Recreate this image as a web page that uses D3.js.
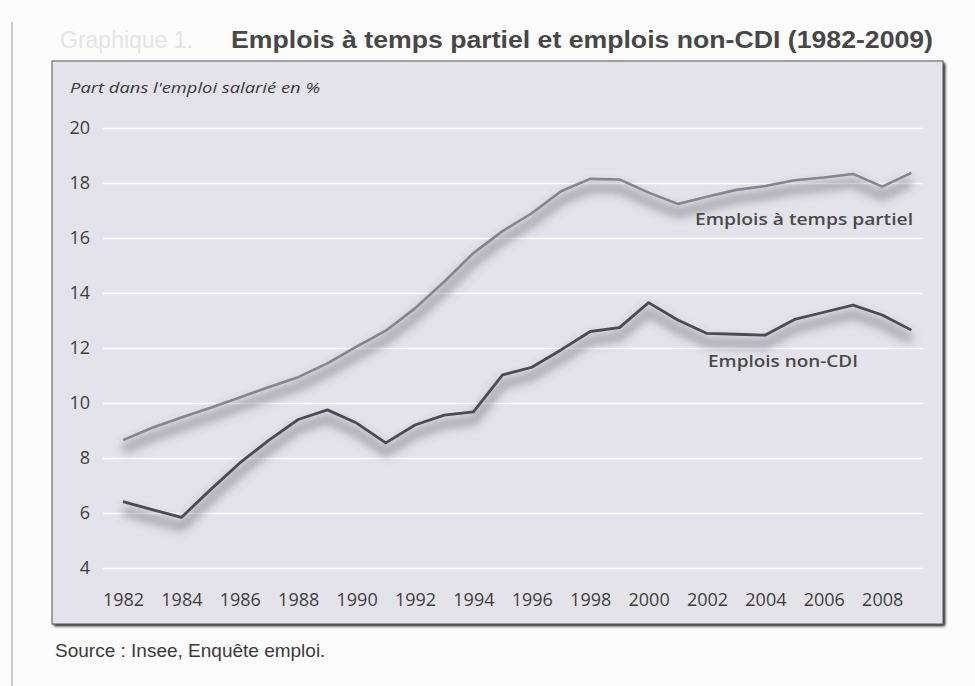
<!DOCTYPE html>
<html>
<head>
<meta charset="utf-8">
<script src="https://cdn.jsdelivr.net/npm/d3@7"></script>
<style>
  body { margin: 0; background: #fcfcfc; }
  svg { display: block; }
</style>
</head>
<body>
<div id="chart"></div>
<script>
// values (Insee, Enquête emploi)
const years = [1982, 1983, 1984, 1985, 1986, 1987, 1988, 1989, 1990, 1991, 1992, 1993, 1994, 1995,
               1996, 1997, 1998, 1999, 2000, 2001, 2002, 2003, 2004, 2005, 2006, 2007, 2008, 2009];
const partTime = [8.65, 9.1, 9.47, 9.83, 10.2, 10.58, 10.94, 11.44, 12.05, 12.63, 13.44, 14.41, 15.45, 16.25,
                  16.9, 17.7, 18.15, 18.13, 17.65, 17.24, 17.5, 17.75, 17.89, 18.1, 18.2, 18.33, 17.87, 18.37];
const nonCdi = [6.41, 6.12, 5.84, 6.85, 7.82, 8.65, 9.4, 9.75, 9.27, 8.55, 9.2, 9.56, 9.68, 11.02,
                11.3, 11.93, 12.6, 12.74, 13.65, 13.02, 12.53, 12.5, 12.47, 13.04, 13.3, 13.56, 13.2, 12.65];
const yTicks = [4, 6, 8, 10, 12, 14, 16, 18, 20];
const xTicks = [1982, 1984, 1986, 1988, 1990, 1992, 1994, 1996, 1998, 2000, 2002, 2004, 2006, 2008];

const width = 975, height = 686;

const svg = d3.select("#chart").append("svg")
    .attr("width", width)
    .attr("height", height);

const defs = svg.append("defs");
// blur used for the soft shadow under each line
defs.append("filter").attr("id", "blur")
    .attr("x", "-10%").attr("y", "-50%").attr("width", "120%").attr("height", "200%")
  .append("feGaussianBlur").attr("stdDeviation", 5);

const boxShadow = defs.append("filter").attr("id", "boxShadow");
boxShadow.append("feGaussianBlur").attr("in", "SourceAlpha").attr("stdDeviation", 1.5);

// scan margin line on the left
svg.append("line")
    .attr("x1", 12).attr("x2", 12).attr("y1", 22).attr("y2", 686)
    .attr("stroke", "#9a9a9a").attr("stroke-width", 1);

// title (the "Graphique 1." prefix is barely visible in the scan)
svg.append("text")
    .attr("x", 60).attr("y", 48)
    .attr("font-family", "Liberation Sans, Arial, sans-serif")
    .attr("font-size", 23)
    .attr("fill", "#e4e4e4")
    .text("Graphique 1.");

svg.append("text")
    .attr("x", 231).attr("y", 48)
    .attr("font-family", "Liberation Sans, Arial, sans-serif")
    .attr("font-weight", "bold")
    .attr("font-size", 24)
    .attr("fill", "#474747")
    .attr("textLength", 702)
    .attr("lengthAdjust", "spacingAndGlyphs")
    .text("Emplois à temps partiel et emplois non-CDI (1982-2009)");

// panel
const panel = { x: 52, y: 61, w: 891, h: 563 };
svg.append("rect")
    .attr("x", panel.x + 2).attr("y", panel.y + 2)
    .attr("width", panel.w).attr("height", panel.h)
    .attr("fill", "#9a9a9a")
    .attr("filter", "url(#boxShadow)");
svg.append("rect")
    .attr("x", panel.x).attr("y", panel.y)
    .attr("width", panel.w).attr("height", panel.h)
    .attr("fill", "#e4e3ea")
    .attr("stroke", "#6e6e6e")
    .attr("stroke-width", 1.2);

const x = d3.scaleLinear().domain([1982, 2009]).range([123, 911.4]);
const y = d3.scaleLinear().domain([4, 20]).range([568, 128]);

const font = "Open Sans, Noto Sans, sans-serif";

// gridlines + y labels
const yAxis = d3.axisLeft(y)
    .tickValues(yTicks)
    .tickSize(-(923 - 103))
    .tickPadding(13)
    .tickFormat(d3.format("d"));

const gy = svg.append("g")
    .attr("transform", "translate(103,0)")
    .call(yAxis);
gy.select(".domain").remove();
gy.selectAll(".tick line").attr("stroke", "#ffffff").attr("stroke-width", 1.6);
gy.selectAll(".tick text")
    .attr("font-family", font)
    .attr("font-size", 18)
    .attr("fill", "#3e3e3e");

// x labels
const xAxis = d3.axisBottom(x)
    .tickValues(xTicks)
    .tickSize(0)
    .tickPadding(0)
    .tickFormat(d3.format("d"));

const gx = svg.append("g")
    .attr("transform", "translate(0,590)")
    .call(xAxis);
gx.select(".domain").remove();
gx.selectAll(".tick text")
    .attr("font-family", font)
    .attr("font-size", 18)
    .attr("fill", "#3e3e3e")
    .attr("dy", "0.9em");

// y axis caption
svg.append("text")
    .attr("x", 70).attr("y", 93)
    .attr("font-family", "Liberation Sans Narrow, Open Sans, sans-serif")
    .attr("font-style", "italic")
    .attr("font-size", 15)
    .attr("fill", "#3a3a3a")
    .attr("textLength", 250)
    .attr("lengthAdjust", "spacingAndGlyphs")
    .text("Part dans l'emploi salarié en %");

// lines
const line = d3.line()
    .x((d, i) => x(years[i]))
    .y(d => y(d));

const series = [
    { values: partTime, color: "#85858b", width: 2.6 },
    { values: nonCdi, color: "#4b4b50", width: 2.8 }
];

// shadows first so neither line gets covered
svg.append("g").selectAll("path")
    .data(series)
    .join("path")
    .attr("d", d => line(d.values))
    .attr("transform", "translate(0,9)")
    .attr("fill", "none")
    .attr("stroke", "#55555c")
    .attr("stroke-opacity", 0.45)
    .attr("stroke-width", 9)
    .attr("stroke-linejoin", "round")
    .attr("filter", "url(#blur)");

svg.append("g").selectAll("path")
    .data(series)
    .join("path")
    .attr("d", d => line(d.values))
    .attr("fill", "none")
    .attr("stroke", d => d.color)
    .attr("stroke-width", d => d.width)
    .attr("stroke-linejoin", "round");

// series labels
svg.append("text")
    .attr("x", 695).attr("y", 225)
    .attr("font-family", font)
    .attr("font-weight", 600)
    .attr("font-size", 16)
    .attr("fill", "#4a4a4a")
    .attr("textLength", 218)
    .attr("lengthAdjust", "spacingAndGlyphs")
    .text("Emplois à temps partiel");

svg.append("text")
    .attr("x", 708).attr("y", 367)
    .attr("font-family", font)
    .attr("font-weight", 600)
    .attr("font-size", 16)
    .attr("fill", "#4a4a4a")
    .attr("textLength", 150)
    .attr("lengthAdjust", "spacingAndGlyphs")
    .text("Emplois non-CDI");

// source
svg.append("text")
    .attr("x", 55).attr("y", 657)
    .attr("font-family", "Liberation Sans, Arial, sans-serif")
    .attr("font-size", 19)
    .attr("fill", "#3a3a3a")
    .text("Source : Insee, Enquête emploi.");
</script>
</body>
</html>
